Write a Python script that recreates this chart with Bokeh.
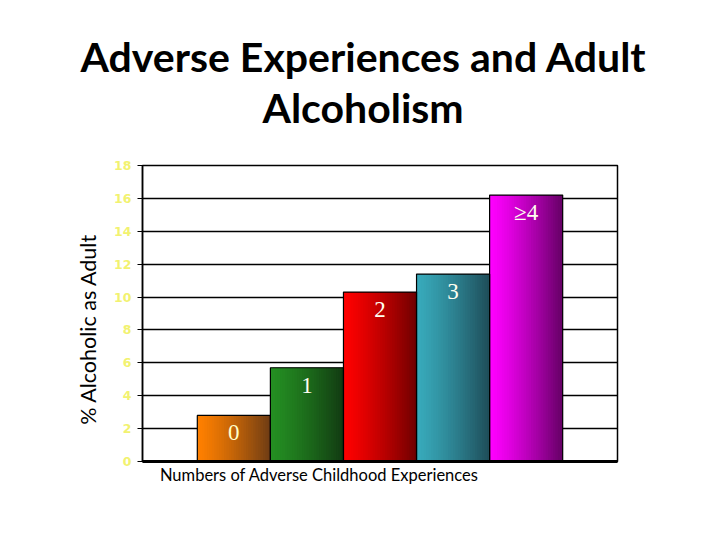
import math
import numpy as np
from bokeh.plotting import figure
from bokeh.models import ColumnDataSource, FixedTicker, Range1d, Title, LinearAxis
from bokeh.core.properties import value
from bokeh.embed import file_html
from bokeh.resources import INLINE

# ---- data ----
categories = ["0", "1", "2", "3", "\u22654"]
pct_alcoholic = [2.8, 5.7, 10.3, 11.4, 16.2]
y_ticks = [0, 2, 4, 6, 8, 10, 12, 14, 16, 18]
x_title = "Numbers of Adverse Childhood Experiences"
y_title = "% Alcoholic as Adult"
title_lines = ["Adverse Experiences and Adult", "Alcoholism"]

# ---- styles ----
start_colors = ["#FF8000", "#248F22", "#FF0000", "#38AABB", "#FF00FF"]
end_colors = ["#6E3C14", "#123A12", "#6E0000", "#1E4C58", "#640064"]
label_colors = ["#FFFFC8", "#FFFFF0", "#FFFFF0", "#FFFFF0", "#FFFFF0"]

def hex2rgb(h):
    h = h.lstrip("#")
    return [int(h[i:i + 2], 16) for i in (0, 2, 4)]

def rgb2hex(c):
    return "#%02x%02x%02x" % tuple(int(round(v)) for v in c)

xs = list(range(len(categories)))

p = figure(width=704, height=524, output_backend="svg", toolbar_location=None,
           x_range=Range1d(-1.25, 5.25), y_range=Range1d(0, 18),
           min_border_left=142, min_border_right=87, min_border_top=165,
           min_border_bottom=63)
p.background_fill_color = "white"
p.border_fill_color = "white"
p.outline_line_color = "black"
p.outline_line_width = 1.5

# gradient strips for bars (overlapping to avoid seams)
N = 30
lefts, rights, tops, colors = [], [], [], []
for i, (x, v) in enumerate(zip(xs, pct_alcoholic)):
    c0 = np.array(hex2rgb(start_colors[i]), float)
    c1 = np.array(hex2rgb(end_colors[i]), float)
    for k in range(N):
        t = ((k + 0.5) / N) ** 1.25
        lft = x - 0.5 + k / N
        lefts.append(lft)
        rights.append(min(lft + 2.0 / N, x + 0.5))
        tops.append(v)
        colors.append(rgb2hex(c0 + (c1 - c0) * t))
strip_src = ColumnDataSource(dict(left=lefts, right=rights, top=tops,
                                  bottom=[0] * len(tops), color=colors))
p.quad(left="left", right="right", top="top", bottom="bottom", fill_color="color",
       line_color=None, source=strip_src)

# bar outlines
p.vbar(x=xs, top=pct_alcoholic, width=1.0, fill_alpha=0, line_color="black",
       line_width=1.2)

# labels inside bars
lab_src = ColumnDataSource(dict(x=xs, y=[v - 1.05 for v in pct_alcoholic],
                                text=categories, color=label_colors))
p.text(x="x", y="y", text="text", source=lab_src, text_color="color",
       text_font=value("Liberation Serif"), text_font_size="23px",
       text_align="center", text_baseline="middle")

# grid
p.xgrid.grid_line_color = None
p.ygrid.grid_line_color = "black"
p.ygrid.grid_line_width = 1.5
p.yaxis.ticker = FixedTicker(ticks=y_ticks)

# y axis
p.yaxis.axis_line_color = "black"
p.yaxis.axis_line_width = 1.5
p.yaxis.major_tick_line_color = "black"
p.yaxis.major_tick_out = 5
p.yaxis.major_tick_in = 0
p.yaxis.minor_tick_line_color = None
p.yaxis.major_label_text_color = "#F2F270"
p.yaxis.major_label_text_font = "DejaVu Sans"
p.yaxis.major_label_text_font_style = "bold"
p.yaxis.major_label_text_font_size = "12.5px"
p.yaxis.major_label_standoff = 6

# x axis: its single label carries the axis title, placed left of centre
x_title_pos = 1.17
p.xaxis.ticker = FixedTicker(ticks=[x_title_pos])
p.xaxis.major_label_overrides = {x_title_pos: x_title}
p.xaxis.axis_line_color = "black"
p.xaxis.axis_line_width = 3
p.xaxis.major_tick_line_color = None
p.xaxis.major_tick_out = 0
p.xaxis.major_tick_in = 0
p.xaxis.minor_tick_line_color = None
p.xaxis.major_label_text_font = "Lato"
p.xaxis.major_label_text_font_size = "16.5px"
p.xaxis.major_label_text_color = "black"
p.xaxis.major_label_standoff = 3

# y axis title, as a second left axis with one label
y_title_pos = 8.05
ax2 = LinearAxis(ticker=FixedTicker(ticks=[y_title_pos]),
                 major_label_overrides={y_title_pos: y_title},
                 major_label_orientation="vertical",
                 axis_line_color=None, major_tick_line_color=None,
                 major_tick_out=0, major_tick_in=0,
                 minor_tick_line_color=None,
                 major_label_text_font="Lato", major_label_text_font_size="21.5px",
                 major_label_text_color="black", major_label_standoff=10)
p.add_layout(ax2, "left")

# chart title: two lines, closest to the plot first
p.add_layout(Title(text=title_lines[1], align="left", offset=120, standoff=68,
                   text_line_height=1.0,
                   text_font="Lato", text_font_style="bold", text_font_size="41px",
                   text_color="black"), "above")
p.add_layout(Title(text=title_lines[0], align="left", offset=-62, standoff=-68,
                   text_line_height=1.0,
                   text_font="Lato", text_font_style="bold", text_font_size="41px",
                   text_color="black"), "above")

open("out.html", "w").write(file_html(p, INLINE))
